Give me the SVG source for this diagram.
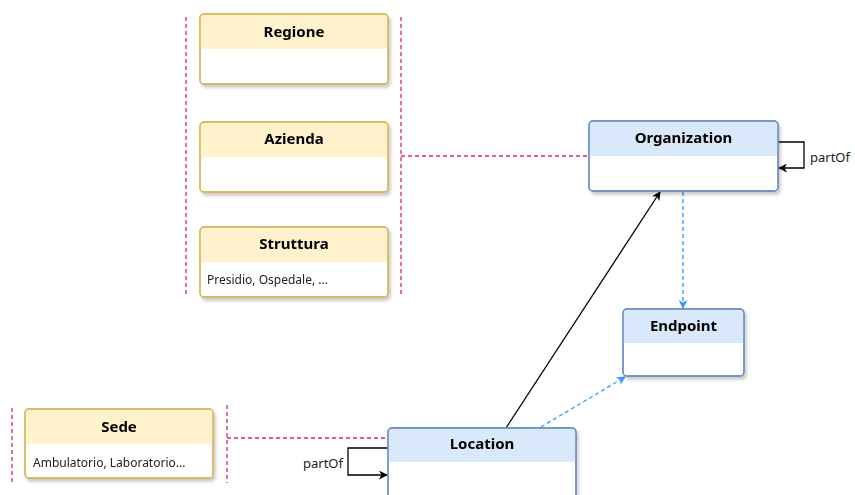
<svg xmlns="http://www.w3.org/2000/svg" width="855" height="495" viewBox="0 0 855 495">
<style>
.ybox{fill:#fff;stroke:#d6b656;stroke-width:1.3}
.yhead{fill:#fff2cc}
.bbox{fill:#fff;stroke:#6c8ebf;stroke-width:1.3}
.bhead{fill:#dae8fc}
.title{font-family:"Noto Sans","DejaVu Sans",sans-serif;font-weight:bold;font-size:15px;fill:#000;text-anchor:middle}
.sub{font-family:"Noto Sans","DejaVu Sans",sans-serif;font-size:12px;fill:#222}
.lbl{font-family:"Noto Sans","DejaVu Sans",sans-serif;font-size:13px;fill:#222}
.pink{stroke:#d9246f;stroke-width:1.3;stroke-dasharray:4 3;fill:none}
.blue{stroke:#3399ff;stroke-width:1.3;stroke-dasharray:4 3;fill:none}
.black{stroke:#000;stroke-width:1.3;fill:none}
</style>
<defs>
<filter id="sh" x="-10%" y="-10%" width="130%" height="140%">
<feDropShadow dx="2" dy="3" stdDeviation="1.5" flood-color="#000" flood-opacity="0.2"/>
</filter>
<marker id="ab" viewBox="0 0 10 10" refX="9" refY="5" markerWidth="9" markerHeight="9" orient="auto" markerUnits="userSpaceOnUse">
<path d="M0,0 L10,5 L0,10 L3,5 Z" fill="#000"/>
</marker>
<marker id="abl" viewBox="0 0 10 10" refX="9" refY="5" markerWidth="9" markerHeight="9" orient="auto" markerUnits="userSpaceOnUse">
<path d="M0,0 L10,5 L0,10 L3,5 Z" fill="#3399ff"/>
</marker>
</defs>

<g id="connectors">
<line class="pink" x1="186" y1="17" x2="186" y2="296"/>
<line class="pink" x1="401" y1="17" x2="401" y2="296"/>
<line class="pink" x1="401" y1="156" x2="589" y2="156"/>
<line class="pink" x1="12" y1="408" x2="12" y2="483"/>
<line class="pink" x1="227" y1="405" x2="227" y2="483"/>
<line class="pink" x1="227" y1="438" x2="388" y2="438"/>
<polyline class="black" points="778,142 804,142 804,168 779,168" marker-end="url(#ab)"/>
<polyline class="black" points="388,448 348,448 348,475 387,475" marker-end="url(#ab)"/>
<line class="black" x1="506" y1="428" x2="660" y2="192" marker-end="url(#ab)"/>
<line class="blue" x1="683" y1="192" x2="683" y2="308" marker-end="url(#abl)"/>
<line class="blue" x1="541" y1="427" x2="625" y2="377" marker-end="url(#abl)"/>
<text class="lbl" x="810" y="162">partOf</text>
<text class="lbl" x="343" y="468" text-anchor="end">partOf</text>
</g>

<g id="regione" filter="url(#sh)">
<rect class="ybox" x="200" y="14" width="188" height="70" rx="4"/>
<path class="yhead" d="M204.6,14.6 H383.4 A3.4,3.4 0 0 1 387.4,18 V49 H200.6 V18 A3.4,3.4 0 0 1 204.6,14.6 Z"/>
<rect x="200" y="14" width="188" height="70" rx="4" fill="none" stroke="#d6b656" stroke-width="1.3"/>
<text class="title" x="294" y="37">Regione</text>
</g>

<g id="azienda" filter="url(#sh)">
<rect class="ybox" x="200" y="122" width="188" height="70" rx="4"/>
<path class="yhead" d="M204.6,122.6 H383.4 A3.4,3.4 0 0 1 387.4,126 V157 H200.6 V126 A3.4,3.4 0 0 1 204.6,122.6 Z"/>
<rect x="200" y="122" width="188" height="70" rx="4" fill="none" stroke="#d6b656" stroke-width="1.3"/>
<text class="title" x="294" y="144">Azienda</text>
</g>

<g id="struttura" filter="url(#sh)">
<rect class="ybox" x="200" y="227" width="188" height="70" rx="4"/>
<path class="yhead" d="M204.6,227.6 H383.4 A3.4,3.4 0 0 1 387.4,231 V262 H200.6 V231 A3.4,3.4 0 0 1 204.6,227.6 Z"/>
<rect x="200" y="227" width="188" height="70" rx="4" fill="none" stroke="#d6b656" stroke-width="1.3"/>
<text class="title" x="294" y="249">Struttura</text>
<text class="sub" x="207" y="284">Presidio, Ospedale, ...</text>
</g>

<g id="sede" filter="url(#sh)">
<rect class="ybox" x="25" y="409" width="188" height="69" rx="4"/>
<path class="yhead" d="M29.6,409.6 H208.4 A3.4,3.4 0 0 1 212.4,413 V444 H25.6 V413 A3.4,3.4 0 0 1 29.6,409.6 Z"/>
<rect x="25" y="409" width="188" height="69" rx="4" fill="none" stroke="#d6b656" stroke-width="1.3"/>
<text class="title" x="119" y="432">Sede</text>
<text class="sub" x="33" y="467">Ambulatorio, Laboratorio...</text>
</g>

<g id="organization" filter="url(#sh)">
<rect class="bbox" x="589" y="121" width="189" height="70" rx="4"/>
<path class="bhead" d="M593.6,121.6 H773.4 A3.4,3.4 0 0 1 777.4,125 V156 H589.6 V125 A3.4,3.4 0 0 1 593.6,121.6 Z"/>
<rect x="589" y="121" width="189" height="70" rx="4" fill="none" stroke="#6c8ebf" stroke-width="1.3"/>
<text class="title" x="683.5" y="143">Organization</text>
</g>

<g id="endpoint" filter="url(#sh)">
<rect class="bbox" x="623" y="309" width="121" height="67" rx="4"/>
<path class="bhead" d="M627.6,309.6 H739.4 A3.4,3.4 0 0 1 743.4,313 V343 H623.6 V313 A3.4,3.4 0 0 1 627.6,309.6 Z"/>
<rect x="623" y="309" width="121" height="67" rx="4" fill="none" stroke="#6c8ebf" stroke-width="1.3"/>
<text class="title" x="683.5" y="331">Endpoint</text>
</g>

<g id="location" filter="url(#sh)">
<rect class="bbox" x="388" y="428" width="188" height="80" rx="4"/>
<path class="bhead" d="M392.6,428.6 H571.4 A3.4,3.4 0 0 1 575.4,432 V462 H388.6 V432 A3.4,3.4 0 0 1 392.6,428.6 Z"/>
<rect x="388" y="428" width="188" height="80" rx="4" fill="none" stroke="#6c8ebf" stroke-width="1.3"/>
<text class="title" x="482" y="449">Location</text>
</g>
</svg>
